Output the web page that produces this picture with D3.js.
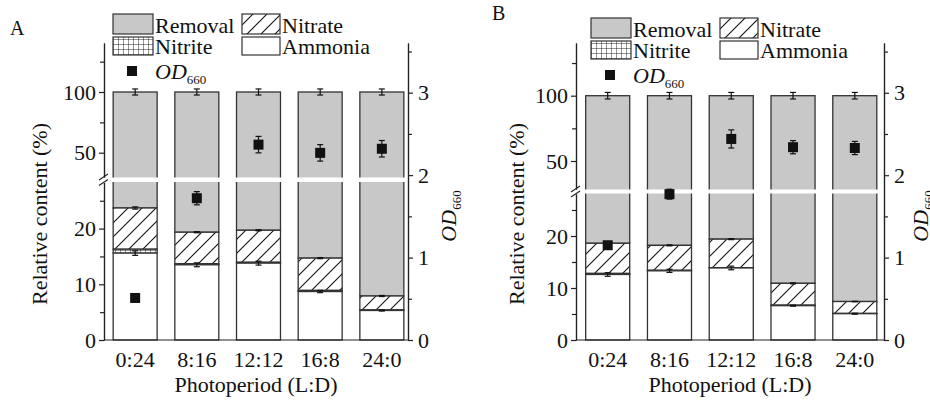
<!DOCTYPE html>
<html>
<head>
<meta charset="utf-8">
<script src="https://cdn.jsdelivr.net/npm/d3@7"></script>
<style>
  body { margin: 0; background: #fff; }
  svg, svg text { font-family: "Liberation Serif", "Times New Roman", Times, "DejaVu Serif", serif !important; }
</style>
</head>
<body>
<div id="container"></div>
<script>
// photoperiod categories
const periods = ["0:24", "8:16", "12:12", "16:8", "24:0"];

// panel A (% of initial N)
const ammoniaA = [15.6, 13.5, 13.8, 8.7, 5.3];
const nitriteA = [0.7, 0.2, 0.15, 0.2, 0.1];
const nitrateA = [7.4, 5.65, 5.75, 5.8, 2.5];
const ammoniaErrA = [0.4, 0.35, 0.35, 0.2, 0.1];
const nitrateErrA = [0.2, 0.1, 0.1, 0.1, 0.1];
const totalErrA = [2.5, 2.5, 2.5, 2.5, 2.5];
const odA = [0.51, 1.72, 2.37, 2.27, 2.32];
const odErrA = [0.02, 0.08, 0.1, 0.1, 0.1];

// panel B
const ammoniaB = [12.6, 13.3, 13.85, 6.6, 5.06];
const nitriteB = [0.2, 0.1, 0.05, 0.1, 0.05];
const nitrateB = [5.8, 4.8, 5.5, 4.2, 2.29];
const ammoniaErrB = [0.35, 0.3, 0.35, 0.1, 0.1];
const nitrateErrB = [0.1, 0.1, 0.1, 0.1, 0.05];
const totalErrB = [2.5, 2.5, 2.5, 2.5, 2.5];
const odB = [1.15, 1.77, 2.44, 2.34, 2.33];
const odErrB = [0.03, 0.06, 0.11, 0.08, 0.08];

const lowTicks = [0, 10, 20], lowMinor = [5, 15, 25];
const upTicks = [50, 100], upMinor = [75, 125];
const odTicks = [0, 1, 2, 3], odMinor = [0.5, 1.5, 2.5, 3.5];

const FS = 22;
const FONT = '"Liberation Serif", "Times New Roman", Times, "DejaVu Serif", serif';
const removalFill = "#c8c8c8";
const edge = "#333";

const svg = d3.select("#container").append("svg")
  .attr("width", 930).attr("height", 400)
  .attr("font-family", FONT);

const defs = svg.append("defs");
const hatch = defs.append("pattern").attr("id", "hatch")
  .attr("patternUnits", "userSpaceOnUse").attr("width", 14).attr("height", 14);
hatch.append("rect").attr("width", 14).attr("height", 14).attr("fill", "#fff");
hatch.append("path").attr("d", "M0,14L14,0M-4,4L4,-4M10,18L18,10")
  .attr("stroke", "#111").attr("stroke-width", 1.1);

const grid = defs.append("pattern").attr("id", "grid")
  .attr("patternUnits", "userSpaceOnUse").attr("width", 5).attr("height", 5);
grid.append("rect").attr("width", 5).attr("height", 5).attr("fill", "#fff");
grid.append("path").attr("d", "M0,0H5M0,0V5").attr("stroke", "#111").attr("stroke-width", 0.9);

function errBar(g, cx, y1, y2, w) {
  g.append("line").attr("x1", cx).attr("x2", cx).attr("y1", y1).attr("y2", y2);
  g.append("line").attr("x1", cx - w).attr("x2", cx + w).attr("y1", y1).attr("y2", y1);
  g.append("line").attr("x1", cx - w).attr("x2", cx + w).attr("y1", y2).attr("y2", y2);
}

function drawPanel(p) {
  const g = svg.append("g");
  const base = 340, top = 43;

  const x = d3.scaleBand().domain(periods).range(p.xRange)
    .paddingInner(0.287).paddingOuter(0.1);

  // broken left axis: lower and upper segments
  const lower = d3.scaleLinear().domain([0, 10]).range([base, p.y10]);
  lower.domain([0, lower.invert(p.gapBot)]).range([base, p.gapBot]);
  const upper = d3.scaleLinear().domain([50, 100]).range([p.y50, p.y100]);
  upper.domain([upper.invert(p.gapTop), upper.invert(top)]).range([p.gapTop, top]);
  const od = d3.scaleLinear().domain([0, 3]).range([base, p.y3]);
  od.domain([0, od.invert(top)]).range([base, top]);

  const rows = periods.map((k, i) => {
    const a = p.ammonia[i], n = p.nitrite[i], t = p.nitrate[i];
    return { k, a, an: a + n, top: a + n + t, i };
  });

  const bars = g.append("g").attr("stroke", edge).attr("stroke-width", 1.3);
  rows.forEach(d => {
    const bx = x(d.k), bw = x.bandwidth();
    bars.append("rect").attr("x", bx).attr("width", bw)
      .attr("y", upper(100)).attr("height", lower(d.top) - upper(100)).attr("fill", removalFill);
    bars.append("rect").attr("x", bx).attr("width", bw)
      .attr("y", lower(d.top)).attr("height", lower(d.an) - lower(d.top)).attr("fill", "url(#hatch)");
    bars.append("rect").attr("x", bx).attr("width", bw)
      .attr("y", lower(d.an)).attr("height", lower(d.a) - lower(d.an)).attr("fill", "url(#grid)");
    bars.append("rect").attr("x", bx).attr("width", bw)
      .attr("y", lower(d.a)).attr("height", base - lower(d.a)).attr("fill", "#fff");
  });

  // white gap of the axis break
  g.append("rect").attr("x", p.axisL + 1).attr("width", p.axisR - p.axisL - 2)
    .attr("y", p.gapTop + 0.5).attr("height", p.gapBot - p.gapTop - 1).attr("fill", "#fff");

  // error bars of the stacked parts
  const eb = g.append("g").attr("stroke", "#111").attr("stroke-width", 1.2);
  rows.forEach(d => {
    const cx = x(d.k) + x.bandwidth() / 2;
    errBar(eb, cx, upper(100 - p.totalErr[d.i]), upper(100 + p.totalErr[d.i]), 3);
    errBar(eb, cx, lower(d.top - p.nitrateErr[d.i]), lower(d.top + p.nitrateErr[d.i]), 3);
    errBar(eb, cx, lower(d.a - p.ammoniaErr[d.i]), lower(d.a + p.ammoniaErr[d.i]), 3);
  });

  // OD660 markers
  rows.forEach(d => {
    const cx = x(d.k) + x.bandwidth() / 2;
    const v = p.od[d.i], e = p.odErr[d.i];
    errBar(eb, cx, od(v - e), od(v + e), 3);
    g.append("rect").attr("x", cx - 5).attr("y", od(v) - 5)
      .attr("width", 10).attr("height", 10).attr("fill", "#111");
  });

  // axes
  const styleAxis = a => {
    a.attr("font-family", FONT).attr("font-size", FS);
    a.selectAll("path,line").attr("stroke", "#222").attr("stroke-width", 1.2);
    a.selectAll("text").attr("fill", "#111");
  };
  const ax = g.append("g").attr("transform", `translate(${p.axisL},0)`);
  ax.append("g").call(d3.axisLeft(lower).tickValues(lowTicks).tickSize(5).tickSizeOuter(0).tickPadding(3)).call(styleAxis);
  ax.append("g").call(d3.axisLeft(lower).tickValues(lowMinor).tickSize(4).tickSizeOuter(0).tickFormat("")).call(styleAxis);
  ax.append("g").call(d3.axisLeft(upper).tickValues(upTicks).tickSize(5).tickSizeOuter(0).tickPadding(3)).call(styleAxis);
  ax.append("g").call(d3.axisLeft(upper).tickValues(upMinor).tickSize(4).tickSizeOuter(0).tickFormat("")).call(styleAxis);
  // break marks
  [p.gapTop, p.gapBot].forEach(yy => {
    ax.append("line").attr("x1", -5).attr("x2", 4).attr("y1", yy + 3).attr("y2", yy - 3)
      .attr("stroke", "#222").attr("stroke-width", 1.2);
  });

  const axr = g.append("g").attr("transform", `translate(${p.axisR},0)`);
  axr.append("g").call(d3.axisRight(od).tickValues(odTicks).tickFormat(d3.format("d"))
    .tickSize(5).tickSizeOuter(0).tickPadding(5)).call(styleAxis);
  axr.append("g").call(d3.axisRight(od).tickValues(odMinor).tickSize(4).tickSizeOuter(0).tickFormat("")).call(styleAxis);

  g.append("line").attr("x1", p.axisL).attr("x2", p.axisR).attr("y1", base).attr("y2", base)
    .attr("stroke", "#222").attr("stroke-width", 1.2);
  const axb = g.append("g").attr("transform", `translate(0,${base})`)
    .call(d3.axisBottom(x).tickSize(0).tickPadding(11)).call(styleAxis);
  axb.select(".domain").remove();

  // titles
  g.append("text").attr("transform", `translate(${p.titleL},214) rotate(-90)`)
    .attr("text-anchor", "middle").attr("font-size", FS).attr("fill", "#111")
    .text("Relative content (%)");
  const odt = g.append("text").attr("transform", `translate(${p.titleR},216) rotate(-90)`)
    .attr("text-anchor", "middle").attr("font-size", FS).attr("fill", "#111");
  odt.append("tspan").attr("font-style", "italic").text("OD");
  odt.append("tspan").attr("font-size", 13).attr("dy", 5).text("660");
  g.append("text").attr("x", (p.axisL + p.axisR) / 2).attr("y", 392)
    .attr("text-anchor", "middle").attr("font-size", FS).attr("fill", "#111")
    .text("Photoperiod (L:D)");
  g.append("text").attr("x", p.labelX).attr("y", p.labelY)
    .attr("font-size", 20).attr("fill", "#111").text(p.label);

  // legend
  const lg = g.append("g").attr("transform", `translate(${p.legX},${p.legY})`);
  const items = [
    { name: "Removal", fill: removalFill, x: 0, y: 0, w: 40, h: 20 },
    { name: "Nitrate", fill: "url(#hatch)", x: 129, y: 0, w: 38, h: 20 },
    { name: "Nitrite", fill: "url(#grid)", x: 0, y: 23, w: 40, h: 18 },
    { name: "Ammonia", fill: "#fff", x: 129, y: 23, w: 38, h: 18 }
  ];
  items.forEach(it => {
    lg.append("rect").attr("x", it.x).attr("y", it.y).attr("width", it.w).attr("height", it.h)
      .attr("fill", it.fill).attr("stroke", edge).attr("stroke-width", 1.2);
    lg.append("text").attr("x", it.x + it.w + 2).attr("y", it.y + it.h - 1)
      .attr("font-size", FS).attr("fill", "#111").text(it.name);
  });
  lg.append("rect").attr("x", 14).attr("y", 52).attr("width", 10).attr("height", 10).attr("fill", "#111");
  const lt = lg.append("text").attr("x", 42).attr("y", 65).attr("font-size", FS).attr("fill", "#111");
  lt.append("tspan").attr("font-style", "italic").text("OD");
  lt.append("tspan").attr("font-size", 13).attr("dy", 5).text("660");
}

drawPanel({
  label: "A", labelX: 10, labelY: 35,
  axisL: 104, axisR: 408, xRange: [107, 410],
  y10: 284.3, y50: 152.7, y100: 92, y3: 92.7,
  gapTop: 177, gapBot: 182.5,
  titleL: 47, titleR: 456,
  legX: 113, legY: 14,
  ammonia: ammoniaA, nitrite: nitriteA, nitrate: nitrateA,
  ammoniaErr: ammoniaErrA, nitrateErr: nitrateErrA, totalErr: totalErrA,
  od: odA, odErr: odErrA
});

drawPanel({
  label: "B", labelX: 492, labelY: 20,
  axisL: 576, axisR: 884, xRange: [579.5, 883],
  y10: 288, y50: 161, y100: 95.7, y3: 92.8,
  gapTop: 189, gapBot: 194,
  titleL: 524, titleR: 928,
  legX: 591, legY: 18,
  ammonia: ammoniaB, nitrite: nitriteB, nitrate: nitrateB,
  ammoniaErr: ammoniaErrB, nitrateErr: nitrateErrB, totalErr: totalErrB,
  od: odB, odErr: odErrB
});
</script>
</body>
</html>
